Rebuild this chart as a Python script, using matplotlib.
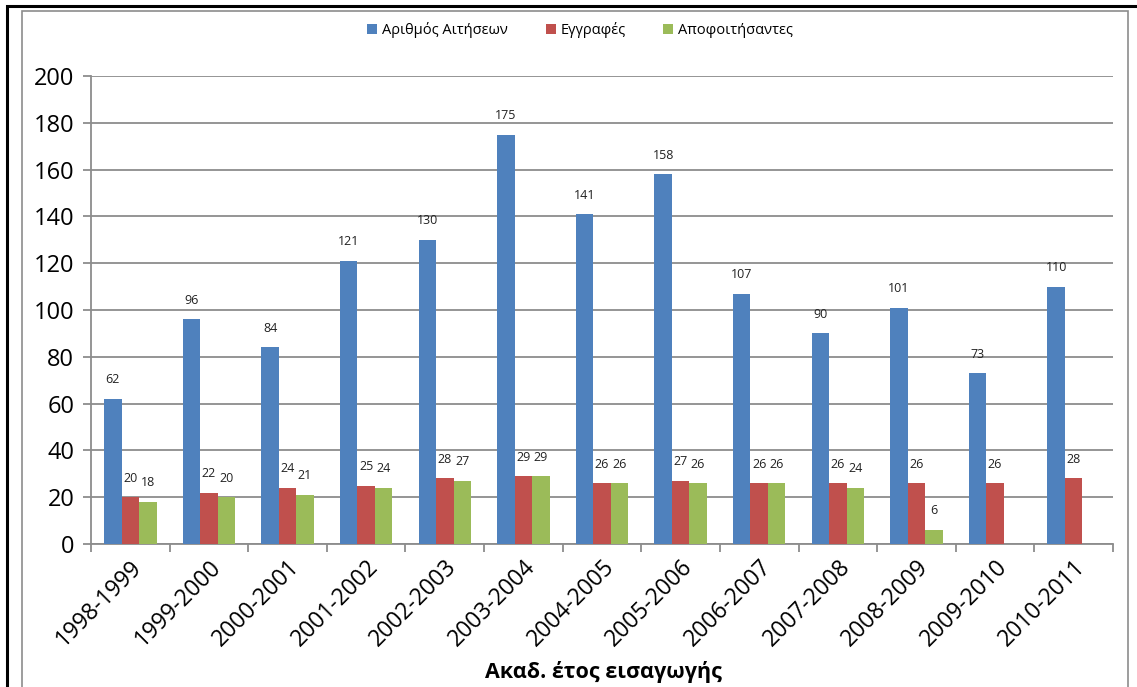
import numpy as np
import matplotlib
matplotlib.use("Agg")
import matplotlib.pyplot as plt
from matplotlib.patches import Rectangle

plt.rcParams['font.family'] = ['Open Sans', 'DejaVu Sans']

years = ["1998-1999", "1999-2000", "2000-2001", "2001-2002", "2002-2003", "2003-2004",
         "2004-2005", "2005-2006", "2006-2007", "2007-2008", "2008-2009", "2009-2010", "2010-2011"]
aitiseis = [62, 96, 84, 121, 130, 175, 141, 158, 107, 90, 101, 73, 110]
eggrafes = [20, 22, 24, 25, 28, 29, 26, 27, 26, 26, 26, 26, 28]
apofoit = [18, 20, 21, 24, 27, 29, 26, 26, 26, 24, 6, None, None]

names = ["Αριθμός Αιτήσεων", "Εγγραφές", "Αποφοιτήσαντες"]
colors = ["#4F81BD", "#C0504D", "#9BBB59"]

W, H = 1137, 687
fig = plt.figure(figsize=(W/100, H/100), dpi=100)

# borders
fig.patches.append(Rectangle((7/W, -0.05), 1.2, 1-6/H+0.05, transform=fig.transFigure,
                             fill=False, ec="black", lw=2.2))
fig.patches.append(Rectangle((22/W, -0.05), (1128-22)/W, 1-11/H+0.05, transform=fig.transFigure,
                             fill=False, ec="#8c8c8c", lw=1.2))

ax = fig.add_axes([91/W, 1-544/H, (1113-91)/W, (544-76)/H])

x = np.arange(len(years))
bw = 1/4.5
series = [aitiseis, eggrafes, apofoit]
for i, (vals, c, n) in enumerate(zip(series, colors, names)):
    v = np.array([np.nan if a is None else a for a in vals], dtype=float)
    pos = x + (i-1)*bw
    ax.bar(pos, v, width=bw, color=c, label=n, zorder=3)
    for p, val in zip(pos, v):
        if np.isnan(val):
            continue
        ax.annotate(str(int(val)), (p, val), xytext=(0, 9), textcoords="offset points",
                    ha="center", va="bottom", fontsize=9, color="#222222")

ax.set_xlim(-0.5, len(years)-0.5)
ax.set_ylim(0, 200)
ax.set_yticks(np.arange(0, 201, 20))
ax.yaxis.grid(True, color="#8c8c8c", lw=1.3, zorder=0)
ax.set_xticks(np.arange(-0.5, len(years)), minor=False)
ax.set_xticklabels([])
ax.set_xticks(x, minor=True)
ax.set_xticklabels(years, minor=True, rotation=45, ha="right", rotation_mode="anchor", fontsize=16.5)
ax.tick_params(axis="x", which="minor", length=0, pad=8)
ax.tick_params(axis="x", which="major", length=6, color="#8c8c8c", width=1.3)
ax.tick_params(axis="y", length=6, color="#8c8c8c", width=1.3, labelsize=17, pad=6)
for s in ["top", "right"]:
    ax.spines[s].set_visible(False)
for s in ["left", "bottom"]:
    ax.spines[s].set_color("#8c8c8c")
    ax.spines[s].set_linewidth(1.3)

fig.text(603/W, 1-672/H, "Ακαδ. έτος εισαγωγής", ha="center", va="center",
         fontsize=15.5, fontweight="bold")

ax.legend(loc="center", bbox_to_anchor=(580/W, 1-30/H), bbox_transform=fig.transFigure,
          ncol=3, frameon=False, fontsize=10.5, handlelength=0.7, handleheight=0.7,
          handletextpad=0.3, columnspacing=2.6)

fig.savefig("out.png", dpi=100)
